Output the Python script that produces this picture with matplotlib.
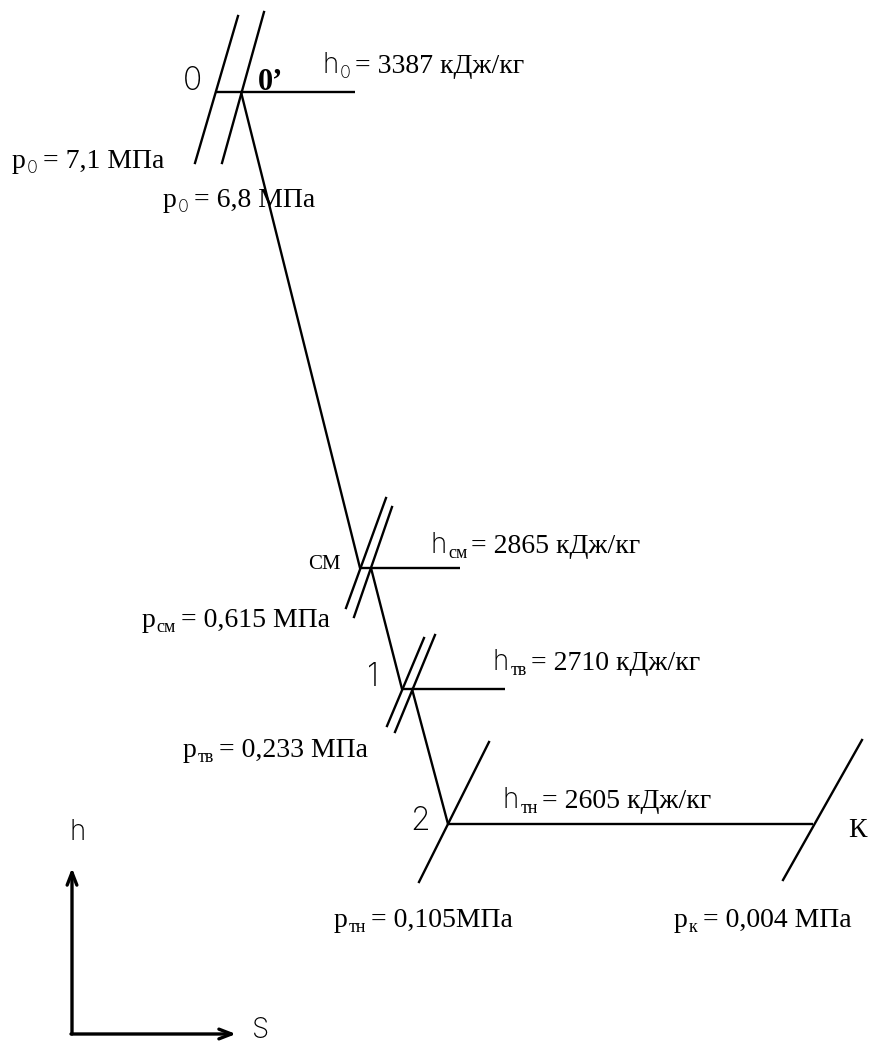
import matplotlib
matplotlib.use("Agg")
import matplotlib.pyplot as plt
from matplotlib.font_manager import FontProperties

# sketch coordinates: s to the right, h drawn downward in image units
# horizontal enthalpy lines (h level, s start, s end)
hline_h = [92, 568, 689, 824]
hline_s0 = [216, 360, 402, 448]
hline_s1 = [355, 460, 505, 813]

# expansion process, one segment per stage
exp_s0 = [241, 371, 412]
exp_h0 = [92, 568, 689]
exp_s1 = [360, 402, 448]
exp_h1 = [568, 689, 824]

# isobars (p0, p0', two for СМ, two for 1, тн, к)
iso_s0 = [195, 222, 346, 354, 387, 395, 419, 783]
iso_h0 = [163, 163, 608, 617, 726, 732, 882, 880]
iso_s1 = [238, 264, 386, 392, 424, 435, 489, 862]
iso_h1 = [16, 12, 498, 507, 638, 635, 742, 740]

SERIF = "Liberation Serif"
SANS = "Inter"

serif = FontProperties(family=SERIF, size=20)
serif_sub = FontProperties(family=SERIF, size=13)
serif_bold = FontProperties(family=SERIF, size=22, weight="bold")
serif_small = FontProperties(family=SERIF, size=15)
thin = FontProperties(family=SANS, size=20, weight="light")
thin_sub = FontProperties(family=SANS, size=13, weight="light")
thin_big = FontProperties(family=SANS, size=23, weight="light")

fig = plt.figure(figsize=(8.7, 10.45), dpi=100)
ax = fig.add_axes([0, 0, 1, 1])
ax.set_xlim(0, 870)
ax.set_ylim(1045, 0)
ax.axis("off")

lw = 1.7
for h, a, b in zip(hline_h, hline_s0, hline_s1):
    ax.plot([a, b], [h, h], color="black", lw=lw, solid_capstyle="butt")
for a, b, c, d in zip(exp_s0, exp_h0, exp_s1, exp_h1):
    ax.plot([a, c], [b, d], color="black", lw=lw)
for a, b, c, d in zip(iso_s0, iso_h0, iso_s1, iso_h1):
    ax.plot([a, c], [b, d], color="black", lw=lw)

# h-s axes arrows
arrow = dict(arrowstyle="->,head_length=0.9,head_width=0.35", lw=2.4, color="black",
             shrinkA=0, shrinkB=0)
ax.annotate("", xy=(72, 868), xytext=(72, 1034), arrowprops=arrow)
ax.annotate("", xy=(236, 1034), xytext=(71, 1034), arrowprops=arrow)
ax.text(78, 833, "h", fontproperties=thin, ha="center", va="center")
ax.text(261, 1031, "S", fontproperties=thin, ha="center", va="center")

renderer = fig.canvas.get_renderer()


def rich(x, y, parts):
    """Draw text pieces one after another on a common baseline (dy > 0 is down)."""
    px, py = ax.transData.transform((x, y))
    for txt, fp, dy, gap in parts:
        px += gap
        t = ax.text(px, py - dy, txt, transform=None, fontproperties=fp,
                    ha="left", va="baseline")
        px = t.get_window_extent(renderer).x1


def h_label(x, y, sub, sub_fp, value):
    rich(x, y, [("h", thin, 0, 0), (sub, sub_fp, 5, 1),
                (f"= {value} кДж/кг", serif, 0, 4)])


def p_label(x, y, sub, sub_fp, value):
    rich(x, y, [("p", serif, 0, 0), (sub, sub_fp, 5, 1), (f"= {value}", serif, 0, 5)])


# point labels
ax.text(193, 81, "0", fontproperties=thin_big, ha="center", va="center")
ax.text(258, 90, "0’", fontproperties=serif_bold, ha="left", va="baseline")
ax.text(308, 569, "СМ", fontproperties=serif_small, ha="left", va="baseline")
ax.text(373, 678, "1", fontproperties=thin_big, ha="center", va="center")
ax.text(420, 822, "2", fontproperties=thin_big, ha="center", va="center")
ax.text(848, 837, "К", fontproperties=serif, ha="left", va="baseline")

h_label(323, 73, "0", thin_sub, "3387")
h_label(431, 553, "см", serif_sub, "2865")
h_label(493, 670, "тв", serif_sub, "2710")
h_label(503, 808, "тн", serif_sub, "2605")

p_label(12, 168, "0", thin_sub, "7,1 МПа")
p_label(163, 207, "0", thin_sub, "6,8 МПа")
p_label(142, 627, "см", serif_sub, "0,615 МПа")
p_label(183, 757, "тв", serif_sub, "0,233 МПа")
p_label(334, 927, "тн", serif_sub, "0,105МПа")
p_label(674, 927, "к", serif_sub, "0,004 МПа")

fig.savefig("out.png", dpi=100)
